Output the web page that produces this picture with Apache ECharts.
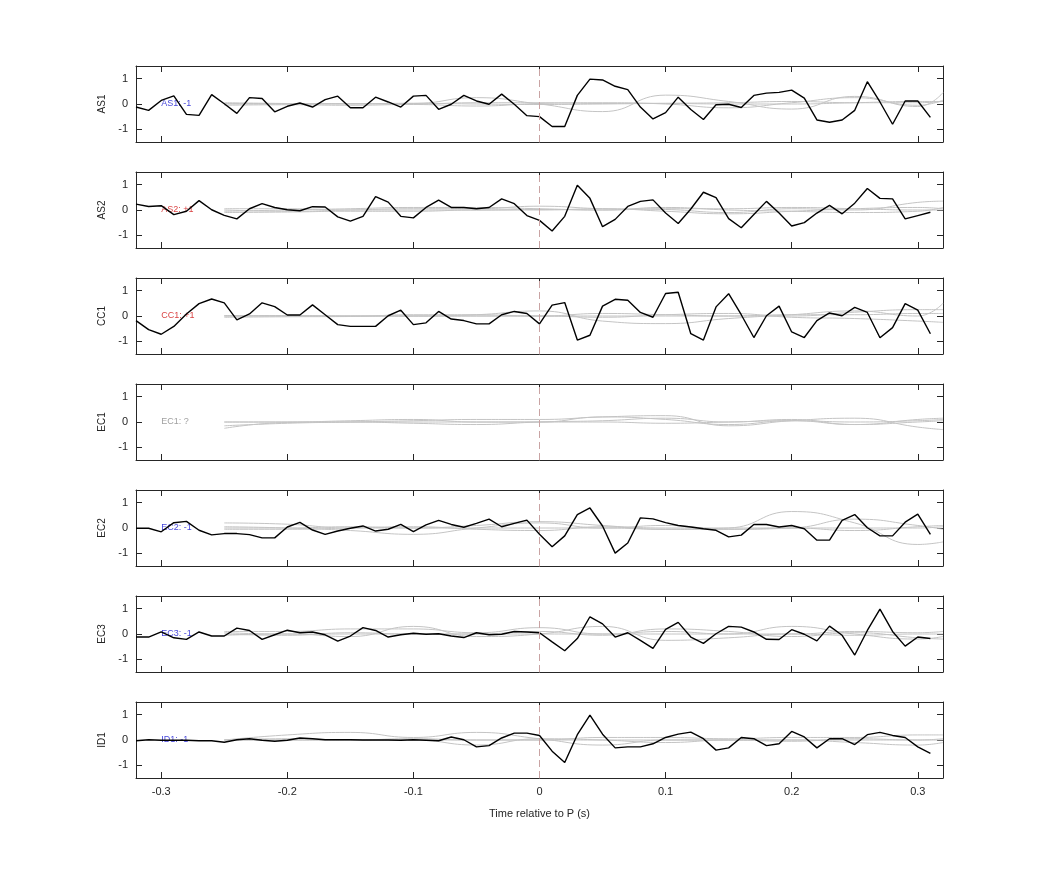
<!DOCTYPE html>
<html lang="en">
<head>
<meta charset="UTF-8">
<script src="https://cdn.jsdelivr.net/npm/echarts/dist/echarts.min.js"></script>
<style>
  html, body { margin: 0; background: #fff; }
  #chart { width: 1042px; height: 875px; }
</style>
</head>
<body>
<div id="chart"></div>
<script>
  // black traces, one sample every 0.01 s from -0.32 to 0.31
  const t0 = -0.32, dt = 0.01;
  const stations = ['AS1', 'AS2', 'CC1', 'EC1', 'EC2', 'EC3', 'ID1'];
  const polarity = ['-1', '+1', '+1', '?', '-1', '-1', '-1'];
  const polColor = { '-1': '#1010d0', '+1': '#d01010', '?': '#888888' };

  const AS1 = [-0.12,-0.25,0.14,0.32,-0.41,-0.45,0.37,0.01,-0.37,0.25,0.22,-0.31,-0.09,0.04,-0.12,0.17,0.31,-0.15,-0.15,0.27,0.08,-0.12,0.31,0.34,-0.21,-0.01,0.34,0.12,-0.01,0.39,-0.01,-0.46,-0.5,-0.89,-0.89,0.34,0.98,0.95,0.7,0.57,-0.12,-0.59,-0.34,0.27,-0.22,-0.61,-0.03,-0.01,-0.14,0.34,0.43,0.46,0.55,0.23,-0.63,-0.72,-0.63,-0.25,0.88,0.08,-0.8,0.12,0.12,-0.53];
  const AS2 = [0.23,0.14,0.17,-0.18,-0.05,0.37,0.01,-0.21,-0.35,0.05,0.25,0.1,0.01,-0.03,0.13,0.12,-0.27,-0.44,-0.25,0.53,0.31,-0.25,-0.31,0.1,0.39,0.1,0.1,0.05,0.1,0.44,0.25,-0.22,-0.41,-0.83,-0.25,0.98,0.46,-0.66,-0.37,0.14,0.34,0.4,-0.12,-0.53,0.04,0.7,0.49,-0.34,-0.7,-0.18,0.34,-0.12,-0.63,-0.5,-0.12,0.18,-0.15,0.27,0.85,0.46,0.44,-0.35,-0.22,-0.09];
  const CC1 = [-0.18,-0.54,-0.72,-0.41,0.08,0.49,0.67,0.52,-0.15,0.08,0.52,0.37,0.04,0.04,0.44,0.05,-0.34,-0.41,-0.41,-0.41,0.01,0.23,-0.34,-0.27,0.18,-0.12,-0.18,-0.31,-0.31,0.05,0.18,0.1,-0.31,0.43,0.53,-0.95,-0.76,0.39,0.66,0.62,0.14,-0.05,0.89,0.94,-0.7,-0.95,0.36,0.88,0.05,-0.85,0.01,0.39,-0.63,-0.85,-0.18,0.12,0.01,0.34,0.14,-0.86,-0.46,0.49,0.23,-0.7];
  const EC1 = [];
  const EC2 = [-0.01,-0.01,-0.15,0.21,0.26,-0.09,-0.27,-0.22,-0.22,-0.26,-0.39,-0.39,0.04,0.22,-0.08,-0.25,-0.12,-0.01,0.08,-0.12,-0.05,0.14,-0.14,0.12,0.3,0.14,0.03,0.18,0.35,0.05,0.18,0.31,-0.25,-0.74,-0.31,0.53,0.79,0.08,-0.99,-0.59,0.4,0.36,0.21,0.1,0.04,-0.03,-0.09,-0.35,-0.28,0.14,0.14,0.04,0.1,-0.03,-0.48,-0.48,0.3,0.53,0.01,-0.31,-0.31,0.23,0.55,-0.25];
  const EC3 = [-0.12,-0.12,0.08,-0.15,-0.21,0.08,-0.08,-0.08,0.23,0.14,-0.21,-0.03,0.15,0.05,0.08,-0.03,-0.28,-0.08,0.25,0.14,-0.12,-0.03,0.03,-0.01,0.01,-0.08,-0.14,0.05,-0.03,-0.01,0.1,0.08,0.05,-0.31,-0.66,-0.18,0.68,0.4,-0.12,0.05,-0.25,-0.57,0.18,0.46,-0.12,-0.37,0.01,0.3,0.27,0.08,-0.21,-0.22,0.17,-0.01,-0.27,0.31,-0.05,-0.83,0.14,0.98,0.1,-0.48,-0.12,-0.18];
  const ID1 = [-0.03,0.01,-0.01,-0.01,-0.01,-0.03,-0.03,-0.09,0.01,0.05,-0.01,-0.05,-0.01,0.08,0.05,0.01,0.01,0.01,0,0,0,-0.01,0.01,-0.01,-0.03,0.12,0.01,-0.27,-0.22,0.08,0.27,0.27,0.18,-0.44,-0.89,0.21,0.98,0.23,-0.31,-0.27,-0.27,-0.15,0.1,0.23,0.31,0.05,-0.4,-0.31,0.1,0.05,-0.22,-0.15,0.34,0.12,-0.31,0.05,0.05,-0.18,0.21,0.3,0.18,0.1,-0.27,-0.53];
  const black = [AS1, AS2, CC1, EC1, EC2, EC3, ID1];

  // grey synthetic traces, sampled every 0.05 s from -0.25 to 0.30, then 0.32
  const greyT = [-0.25,-0.2,-0.15,-0.1,-0.05,0,0.05,0.1,0.15,0.2,0.25,0.3,0.32];
  const greyAS1 = [
    [0.02,0.02,0.01,0.02,0.25,0.0,-0.3,0.35,0.1,-0.2,0.3,-0.1,0.45],
    [0.0,0.0,0.02,0.0,0.05,0.05,0.02,0.03,0.05,0.1,0.05,0.05,0.1],
    [-0.05,-0.03,-0.05,-0.02,-0.08,0.02,0.05,0.0,-0.15,0.05,0.25,-0.05,0.15],
    [0.05,0.02,0.0,0.03,0.0,-0.02,0.0,0.02,0.0,0.0,0.05,0.1,0.1]
  ];
  const greyAS2 = [
    [0.0,-0.05,0.0,0.05,0.05,0.15,0.05,0.02,-0.1,0.05,0.0,0.3,0.35],
    [-0.05,0.0,0.05,0.1,0.1,0.05,0.0,0.1,0.0,-0.05,-0.1,-0.05,0.1],
    [-0.1,-0.08,-0.05,-0.05,0.0,0.0,0.05,-0.05,-0.15,-0.05,0.05,0.1,0.05],
    [0.05,0.05,0.0,0.0,0.0,0.02,0.0,0.05,0.05,0.1,0.05,0.0,0.0]
  ];
  const greyCC1 = [
    [0.0,0.0,0.0,0.0,0.05,0.2,-0.2,-0.3,-0.1,0.05,0.2,0.0,0.5],
    [-0.05,-0.03,-0.02,0.05,0.05,0.0,0.1,0.05,0.0,0.0,0.15,0.25,0.25],
    [0.0,0.02,0.0,0.0,0.0,0.0,-0.05,0.05,0.1,-0.05,-0.1,-0.2,-0.25],
    [0.02,0.0,0.0,0.0,0.0,0.0,0.0,0.0,0.0,0.05,0.05,0.1,0.1]
  ];
  const greyEC1 = [
    [0.0,0.0,0.05,0.1,0.0,0.0,0.2,0.1,-0.1,0.05,-0.1,0.1,0.15],
    [-0.15,-0.05,0.0,0.05,0.1,0.1,0.2,0.25,-0.15,0.05,0.15,-0.2,-0.3],
    [-0.25,-0.02,0.0,-0.05,-0.1,0.0,0.05,0.15,0.0,0.1,-0.1,0.0,0.05],
    [0.0,0.0,0.0,0.0,0.0,0.0,0.0,-0.05,0.0,0.05,0.0,0.05,0.1]
  ];
  const greyEC2 = [
    [0.2,0.15,0.0,0.0,0.1,0.25,0.1,-0.05,0.0,0.65,0.2,-0.65,-0.55],
    [0.05,0.0,-0.1,-0.25,0.0,0.2,0.0,0.1,-0.05,0.0,0.35,0.1,-0.05],
    [-0.05,-0.05,0.0,0.05,-0.05,-0.1,0.05,0.0,0.0,0.0,-0.1,0.05,0.1],
    [0.0,0.0,0.05,0.0,0.0,0.0,0.0,-0.05,-0.05,0.0,0.0,0.0,0.05]
  ];
  const greyEC3 = [
    [0.1,0.1,0.2,0.2,0.05,0.25,0.0,0.1,0.0,0.3,0.0,-0.2,-0.1],
    [-0.05,0.0,-0.1,0.3,-0.1,0.0,0.3,-0.25,-0.15,0.0,-0.05,0.0,0.0],
    [0.0,-0.05,0.05,0.0,0.0,0.1,-0.05,0.2,0.1,-0.1,0.05,-0.15,-0.2],
    [0.05,0.0,0.0,0.0,0.0,0.0,0.0,0.0,0.0,0.0,0.1,0.05,0.1]
  ];
  const greyID1 = [
    [0.0,0.2,0.3,0.1,0.3,0.05,-0.2,0.0,0.0,-0.05,0.05,0.0,0.05],
    [0.0,0.05,0.0,0.0,-0.2,0.05,0.0,-0.1,0.0,0.0,-0.1,-0.2,-0.1],
    [0.0,0.0,0.0,0.05,0.0,0.0,0.1,0.1,0.05,0.1,0.1,0.2,0.2],
    [0.0,0.0,0.0,0.0,0.0,0.0,0.0,0.0,0.0,0.0,0.0,0.0,0.0]
  ];
  const greys = [greyAS1, greyAS2, greyCC1, greyEC1, greyEC2, greyEC3, greyID1];

  const xTicks = [-0.3, -0.2, -0.1, 0, 0.1, 0.2, 0.3];
  const yTicks = [-1, 0, 1];

  const chart = echarts.init(document.getElementById('chart'));
  const grid = [], xAxis = [], yAxis = [], series = [];
  const axisLine = { show: true, onZero: false, lineStyle: { color: '#262626', width: 1 } };

  stations.forEach((name, i) => {
    const last = i === stations.length - 1;
    grid.push({ left: 136, right: 99, top: 66 + 106 * i, height: 76 });
    const xBase = {
      type: 'value', gridIndex: i, min: -0.32, max: 0.32,
      axisLine: axisLine, splitLine: { show: false },
      axisTick: { inside: true, length: 6, customValues: xTicks, lineStyle: { color: '#262626' } }
    };
    xAxis.push(Object.assign({}, xBase, {
      position: 'bottom',
      axisLabel: { show: last, customValues: xTicks, color: '#262626', fontSize: 11, fontFamily: 'Liberation Sans', formatter: v => String(Math.round(v * 10) / 10) },
      name: last ? 'Time relative to P (s)' : '', nameLocation: 'middle', nameGap: 30,
      nameTextStyle: { color: '#262626', fontSize: 11, fontFamily: 'Liberation Sans' }
    }));
    xAxis.push(Object.assign({}, xBase, { position: 'top', axisLabel: { show: false } }));
    const yBase = {
      type: 'value', gridIndex: i, min: -1.5, max: 1.5,
      axisLine: axisLine, splitLine: { show: false },
      axisTick: { inside: true, length: 6, customValues: yTicks, lineStyle: { color: '#262626' } }
    };
    yAxis.push(Object.assign({}, yBase, {
      position: 'left',
      axisLabel: { customValues: yTicks, color: '#262626', fontSize: 11, fontFamily: 'Liberation Sans' },
      name: name, nameLocation: 'middle', nameGap: 28, nameRotate: 90,
      nameTextStyle: { color: '#262626', fontSize: 10, fontFamily: 'Liberation Sans' }
    }));
    yAxis.push(Object.assign({}, yBase, { position: 'right', axisLabel: { show: false } }));

    greys[i].forEach(g => {
      series.push({
        type: 'line', xAxisIndex: 2 * i, yAxisIndex: 2 * i, smooth: 0.5, symbol: 'none', silent: true,
        lineStyle: { color: '#c4c4c4', width: 1 },
        data: greyT.map((t, k) => [t, g[k]])
      });
    });
    series.push({
      type: 'line', xAxisIndex: 2 * i, yAxisIndex: 2 * i, symbol: 'none',
      lineStyle: { color: '#000', width: 1.4 },
      data: black[i].map((v, k) => [t0 + k * dt, v]),
      markLine: {
        symbol: 'none', silent: true, label: { show: false },
        lineStyle: { color: '#c9a3a3', type: [7, 4], width: 1 },
        data: [{ xAxis: 0 }]
      }
    });
    series.push({
      type: 'scatter', xAxisIndex: 2 * i, yAxisIndex: 2 * i, symbolSize: 0, silent: true,
      data: [[-0.3, 0]],
      label: {
        show: true, position: 'right', distance: 0, formatter: name + ': ' + polarity[i],
        color: polColor[polarity[i]], fontSize: 9, fontFamily: 'Liberation Sans'
      }
    });
  });

  chart.setOption({ animation: false, grid, xAxis, yAxis, series });
</script>
</body>
</html>
